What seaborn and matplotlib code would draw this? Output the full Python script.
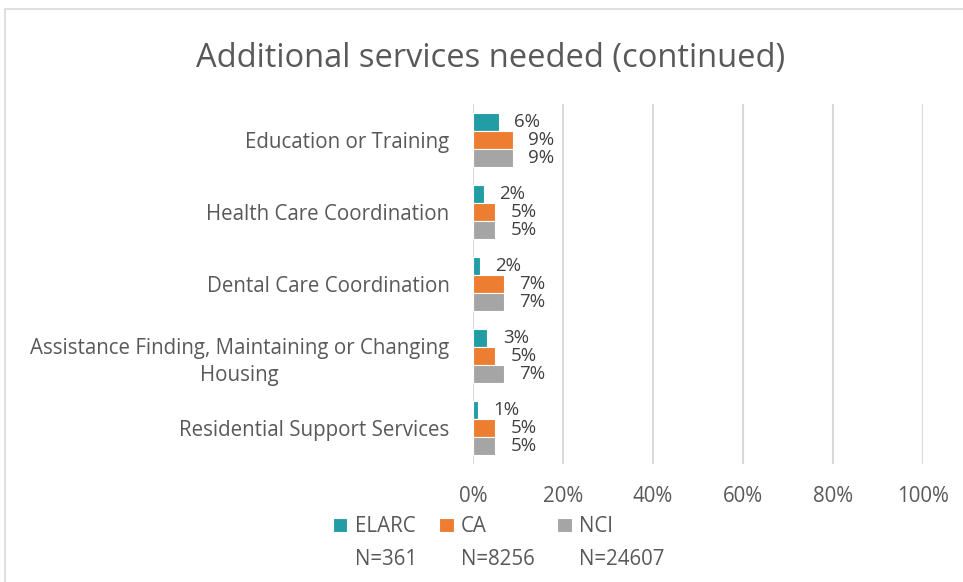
import numpy as np
import pandas as pd
import matplotlib
matplotlib.use('Agg')
import matplotlib.pyplot as plt
from matplotlib.patches import Patch, Rectangle
import seaborn as sns

categories = ['Education or Training', 'Health Care Coordination', 'Dental Care Coordination',
              'Assistance Finding, Maintaining or Changing\nHousing', 'Residential Support Services']
groups = ['ELARC', 'CA', 'NCI']
group_n = ['N=361', 'N=8256', 'N=24607']
elarc = [5.7, 2.4, 1.5, 3.2, 1.0]
ca = [8.9, 4.9, 6.8, 4.9, 4.9]
nci = [8.9, 4.9, 6.8, 6.8, 4.9]
colors = ['#229da6', '#ed7d31', '#a5a5a5']

rows = []
for g, vals in zip(groups, [elarc, ca, nci]):
    for c, v in zip(categories, vals):
        rows.append({'category': c, 'group': g, 'value': v})
df = pd.DataFrame(rows)

sns.set_style('white')
plt.rcParams['font.family'] = ['Open Sans', 'DejaVu Sans']
fs = 14.8

fig = plt.figure(figsize=(9.63, 5.82), dpi=100)
ax = fig.add_axes([0.4912, 0.2027, 0.4673, 0.6186])

sns.barplot(data=df, y='category', x='value', hue='group', order=categories, hue_order=groups,
            palette=colors, saturation=1, orient='h', width=0.75, edgecolor='white',
            linewidth=0.8, ax=ax)

for cont in ax.containers:
    ax.bar_label(cont, fmt='{:.0f}%', padding=11, fontsize=13.5, color='#404040')

ax.set_xlim(0, 100)
ax.set_xticks(np.arange(0, 101, 20))
ax.set_xticklabels([f'{t}%' for t in range(0, 101, 20)])
ax.xaxis.grid(True, color='#d9d9d9', linewidth=1.5)
ax.set_axisbelow(True)
for s in ax.spines.values():
    s.set_visible(False)
ax.tick_params(axis='x', length=0, pad=16, labelsize=fs, labelcolor='#595959')
ax.tick_params(axis='y', length=0, pad=17, labelsize=fs, labelcolor='#595959')
for lab in ax.get_yticklabels():
    lab.set_multialignment('center')
    lab.set_linespacing(1.4)
ax.set_xlabel('')
ax.set_ylabel('')

handles, labels = ax.get_legend_handles_labels()
ax.get_legend().remove()
blank = Patch(facecolor='none', edgecolor='none')
leg_h, leg_l = [], []
for h, l, n in zip(handles, labels, group_n):
    leg_h += [h, blank]
    leg_l += [l, n]
fig.legend(leg_h, leg_l, ncol=3, loc='upper left', bbox_to_anchor=(333 / 963, 1 - 516 / 582),
           frameon=False, fontsize=fs, labelcolor='#595959', handlelength=0.7, handleheight=0.7,
           handletextpad=0.35, columnspacing=1.1, labelspacing=0.6, borderpad=0, borderaxespad=0)

fig.text(0.509, 0.899, 'Additional services needed (continued)', ha='center', va='center',
         fontsize=23.5, color='#595959')

fig.patches.append(Rectangle((5 / 963, -0.1), 1.2, 1.1 - 9 / 582, transform=fig.transFigure,
                             facecolor='none', edgecolor='#d9d9d9', linewidth=1.2))

fig.savefig('out.png', dpi=100)
